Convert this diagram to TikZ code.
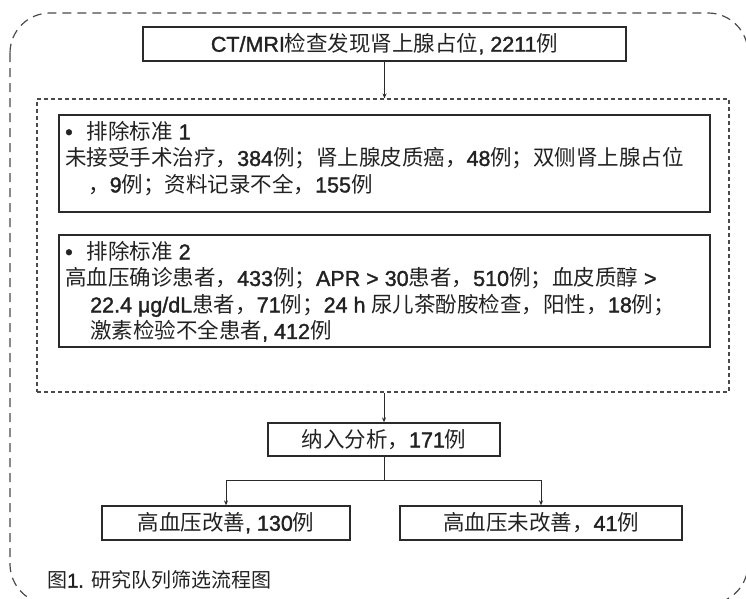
\documentclass[tikz,border=0pt]{standalone}
\usepackage{fontspec}
\usetikzlibrary{arrows.meta}
\setmainfont{Liberation Sans}[FakeBold=1.6]
\newfontfamily\latinfont{Liberation Sans}[UprightFeatures={FakeBold=1.6}]
\newfontfamily\cjkfont{Noto Sans CJK SC}
\XeTeXinterchartokenstate=1
\newXeTeXintercharclass\CJKcls
\newcount\cjkcnt
\cjkcnt="4E00
\loop
  \XeTeXcharclass\cjkcnt=\CJKcls
  \advance\cjkcnt by 1
\ifnum\cjkcnt<"A000 \repeat
\XeTeXcharclass"FF0C=\CJKcls
\XeTeXcharclass"FF1B=\CJKcls
\XeTeXcharclass"FF1A=\CJKcls
\XeTeXcharclass"3001=\CJKcls
\XeTeXcharclass"3002=\CJKcls
\XeTeXinterchartoks 0 \CJKcls = {\cjkfont}
\XeTeXinterchartoks 4095 \CJKcls = {\cjkfont}
\XeTeXinterchartoks \CJKcls 0 = {\latinfont}
\XeTeXinterchartoks \CJKcls 4095 = {\latinfont}
\definecolor{ink}{HTML}{222222}
\definecolor{edge}{HTML}{2A2A2A}
\definecolor{dashgray}{HTML}{4A4A4A}
\begin{document}
\begin{tikzpicture}[x=1pt,y=-1pt,
  font=\latinfont\fontsize{21.5}{26.5}\selectfont,
  box/.style={draw=edge, line width=1.3pt, inner sep=0pt, text=ink},
  dashbox/.style={draw=dashgray, line width=1.1pt, dash pattern=on 4pt off 3pt, inner sep=0pt},
  outerdash/.style={draw=dashgray, line width=1.2pt, dash pattern=on 9pt off 6pt},
  conn/.style={draw=edge, line width=0.9pt},
  arr/.style={conn, -{Stealth[length=5pt,width=4pt]}},
  txt/.style={inner sep=0pt, align=left, anchor=north west, text=ink}]
\useasboundingbox (0,0) rectangle (746,598);
\clip (0,0) rectangle (746,598);
\draw[outerdash, rounded corners=40pt] (10,13) rectangle (748,604);

\node[box, minimum width=483pt, minimum height=34pt] (src) at (384.5,44) {CT/MRI检查发现肾上腺占位, 2211例};
\node[dashbox, minimum width=692pt, minimum height=293pt] (excl) at (383,245.5) {};
\node[box, minimum width=651pt, minimum height=97pt] (ex1) at (384.5,163.5) {};
\node[txt] (ex1t) at (65,121) {•\hspace{14pt}排除标准 1\\
未接受手术治疗，384例；肾上腺皮质癌，48例；双侧肾上腺占位\\
\hspace*{23pt}，9例；资料记录不全，155例};
\node[box, minimum width=651pt, minimum height=112pt] (ex2) at (384.5,291) {};
\node[txt] (ex2t) at (65,241) {•\hspace{14pt}排除标准 2\\
高血压确诊患者，433例；APR > 30患者，510例；血皮质醇 >\\
\hspace*{25pt}22.4 μg/dL患者，71例；24 h 尿儿茶酚胺检查，阳性，18例；\\
\hspace*{25pt}激素检验不全患者, 412例};
\node[box, minimum width=232pt, minimum height=33pt] (ana) at (384,439.5) {纳入分析，171例};
\coordinate (split) at (384,480);
\node[box, minimum width=248pt, minimum height=34pt] (imp) at (226,523) {高血压改善, 130例};
\node[box, minimum width=282pt, minimum height=34pt] (nimp) at (541,523) {高血压未改善，41例};
\node[inner sep=0pt, anchor=west, text=ink, font=\latinfont\fontsize{20}{23}\selectfont] (cap) at (47,580) {图1. 研究队列筛选流程图};

\draw[arr] (src.south) -- (src.south |- excl.north);
\draw[arr] (ana.north |- excl.south) -- (ana.north);
\draw[conn] (ana.south) -- (split);
\draw[arr] (split) -| (imp.north);
\draw[arr] (split) -| (nimp.north);
\end{tikzpicture}
\end{document}
